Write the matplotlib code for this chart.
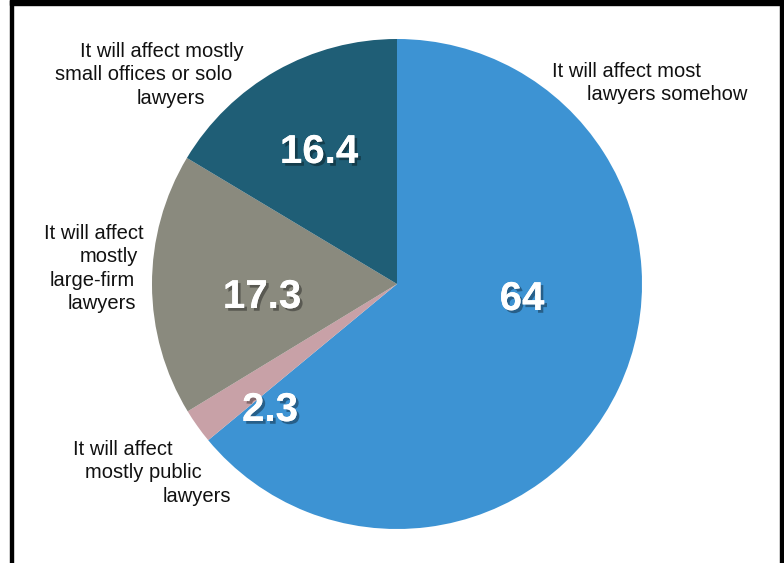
import matplotlib
matplotlib.use("Agg")
import matplotlib.pyplot as plt
from matplotlib import patheffects
from matplotlib.patches import Rectangle

# survey answers, in percent, clockwise from 12 o'clock
shares = [64, 2.3, 17.3, 16.4]
share_text = ["64", "2.3", "17.3", "16.4"]
colors = ["#3d93d3", "#c8a1a7", "#8a8a7e", "#1f5e76"]
label_lines = [
    ["It will affect most", "lawyers somehow"],
    ["It will affect", "mostly public", "lawyers"],
    ["It will affect", "mostly", "large-firm", "lawyers"],
    ["It will affect mostly", "small offices or solo", "lawyers"],
]

# layout in pixels, origin top-left
W, H = 784, 563
center = (397, 284)
radius = 245
label_x = [[552, 587], [73, 85, 163], [44, 80, 50, 68], [80, 55, 137]]
label_y0 = [77, 455, 239, 57]
line_step = 23.3
value_pos = [(522, 299), (270, 410), (262, 297), (319, 152)]

fig = plt.figure(figsize=(W / 100, H / 100), dpi=100)
ax = fig.add_axes([0, 0, 1, 1])

# y axis runs downward, so start at -90 and go "counterclockwise" in data space
ax.pie(shares, colors=colors, startangle=-90, counterclock=True,
       center=center, radius=radius, wedgeprops=dict(linewidth=0))

ax.set_xlim(0, W)
ax.set_ylim(H, 0)
ax.set_aspect("equal")
ax.axis("off")

for xs, y0, lines in zip(label_x, label_y0, label_lines):
    for i, (x, line) in enumerate(zip(xs, lines)):
        ax.text(x, y0 + i * line_step, line, ha="left", va="baseline",
                fontsize=14.5, color="#111111",
                family=["Liberation Sans", "DejaVu Sans"])

shadow = [patheffects.withSimplePatchShadow(offset=(2, -2), shadow_rgbFace="black", alpha=0.35),
          patheffects.Normal()]
for (x, y), txt in zip(value_pos, share_text):
    ax.text(x, y, txt, ha="center", va="center", fontsize=29, fontweight="bold",
            color="white", family=["Liberation Sans", "DejaVu Sans"],
            path_effects=shadow)

# black frame on top, left and right
ax.add_patch(Rectangle((10, 0), W - 10, 5, color="black", clip_on=False))
ax.add_patch(Rectangle((10, 0), 3, H, color="black", clip_on=False))
ax.add_patch(Rectangle((780, 0), 4, H, color="black", clip_on=False))

fig.savefig("out.png", dpi=100, facecolor="white")
